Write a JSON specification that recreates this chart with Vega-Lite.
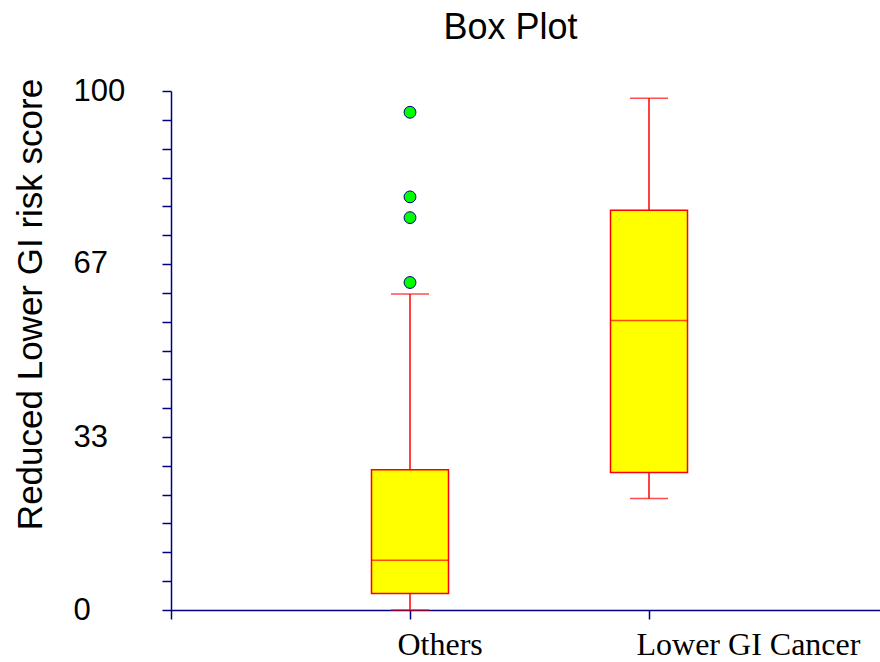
{
  "$schema": "https://vega.github.io/schema/vega-lite/v6.json",
  "width": 709,
  "height": 519,
  "autosize": {"type": "none"},
  "padding": {"left": 171, "top": 91, "right": 0, "bottom": 52},
  "background": "white",
  "title": {
    "text": "Box Plot",
    "font": "Liberation Sans",
    "fontSize": 36,
    "fontWeight": "normal",
    "color": "black",
    "anchor": "middle",
    "frame": "group",
    "baseline": "bottom",
    "offset": 44,
    "dx": -15,
    "dy": 52
  },
  "datasets": {
    "boxes": [
      {"group": "Others", "pos": 1, "low": 0, "q1": 3.2, "median": 9.6, "q3": 27.0, "high": 60.9},
      {"group": "Lower GI Cancer", "pos": 2, "low": 21.5, "q1": 26.5, "median": 55.8, "q3": 77.0, "high": 98.6}
    ],
    "outliers": [
      {"group": "Others", "pos": 1, "value": 95.9},
      {"group": "Others", "pos": 1, "value": 79.6},
      {"group": "Others", "pos": 1, "value": 75.6},
      {"group": "Others", "pos": 1, "value": 63.1}
    ]
  },
  "config": {
    "view": {"stroke": null},
    "axis": {
      "grid": false,
      "domainColor": "#000080",
      "tickColor": "#000080",
      "domainWidth": 1.5,
      "tickWidth": 1.5,
      "tickSize": 9,
      "labelColor": "black",
      "titleColor": "black"
    }
  },
  "encoding": {
    "x": {
      "field": "pos",
      "type": "quantitative",
      "scale": {"domain": [0, 2.9665], "nice": false, "zero": false, "padding": 0},
      "axis": {
        "title": null,
        "values": [0, 1, 2],
        "tickCount": 10,
        "labelExpr": "datum.value == 1 ? 'Others' : datum.value == 2 ? 'Lower GI Cancer' : ''",
        "labelFont": "Liberation Serif",
        "labelFontSize": 32,
        "labelAlign": "left",
        "labelOffset": -13,
        "labelBaseline": "alphabetic",
        "labelPadding": 35,
        "labelLimit": 0,
        "labelFlush": false,
        "labelOverlap": false
      }
    }
  },
  "layer": [
    {
      "data": {"name": "boxes"},
      "mark": {"type": "rule", "color": "#FF0000", "strokeWidth": 1.5},
      "encoding": {
        "y": {
          "field": "low",
          "type": "quantitative",
          "scale": {"domain": [0, 100], "nice": false, "padding": 0},
          "axis": {
            "title": "Reduced Lower GI risk score",
            "titleFont": "Liberation Sans",
            "titleFontSize": 35,
            "titleFontWeight": "normal",
            "titleAngle": -90,
            "titleAlign": "center",
            "titleBaseline": "alphabetic",
            "titleX": -130,
            "titleY": 213,
            "values": [0, 5.5556, 11.1111, 16.6667, 22.2222, 27.7778, 33.3333, 38.8889, 44.4444, 50, 55.5556, 61.1111, 66.6667, 72.2222, 77.7778, 83.3333, 88.8889, 94.4444, 100],
            "tickCount": 40,
            "labelExpr": "abs(datum.value - round(datum.value / 33.3333) * 33.3333) < 0.01 ? format(datum.value, '.0f') : ''",
            "labelFont": "Liberation Sans",
            "labelFontSize": 31,
            "labelAlign": "left",
            "labelBaseline": "middle",
            "labelPadding": 89,
            "labelFlush": false,
            "labelOverlap": false
          }
        },
        "y2": {"field": "high"}
      }
    },
    {
      "data": {"name": "boxes"},
      "mark": {"type": "bar", "width": 77, "fill": "#FFFF00", "stroke": "#FF0000", "strokeWidth": 1.5},
      "encoding": {
        "y": {"field": "q1", "type": "quantitative"},
        "y2": {"field": "q3"}
      }
    },
    {
      "data": {"name": "boxes"},
      "mark": {"type": "tick", "orient": "horizontal", "size": 77, "thickness": 1.5, "color": "#FF0000"},
      "encoding": {
        "y": {"field": "median", "type": "quantitative"}
      }
    },
    {
      "data": {"name": "boxes"},
      "mark": {"type": "tick", "orient": "horizontal", "size": 38, "thickness": 1.5, "color": "#FF0000"},
      "encoding": {
        "y": {"field": "low", "type": "quantitative"}
      }
    },
    {
      "data": {"name": "boxes"},
      "mark": {"type": "tick", "orient": "horizontal", "size": 38, "thickness": 1.5, "color": "#FF0000"},
      "encoding": {
        "y": {"field": "high", "type": "quantitative"}
      }
    },
    {
      "data": {"name": "outliers"},
      "mark": {"type": "point", "shape": "circle", "filled": true, "fill": "#00FF00", "stroke": "#000080", "strokeWidth": 1, "size": 140, "opacity": 1},
      "encoding": {
        "y": {"field": "value", "type": "quantitative"}
      }
    }
  ]
}
